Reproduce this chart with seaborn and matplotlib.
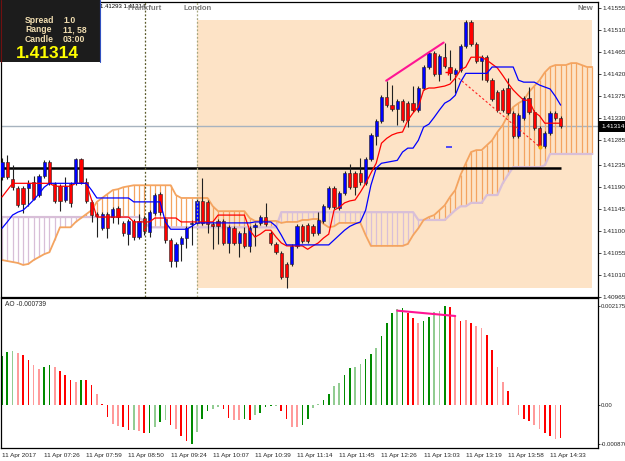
import matplotlib
matplotlib.use("Agg")
import numpy as np
import pandas as pd
import seaborn as sns
import matplotlib.pyplot as plt
from matplotlib.patches import Rectangle
from matplotlib.lines import Line2D

# ---- candles (EURUSD-like M1, 107 bars) ----
opens = [1.41210, 1.41240, 1.41206, 1.41187, 1.41187, 1.41187, 1.41200, 1.41173, 1.41212, 1.41240,
         1.41195, 1.41191, 1.41163, 1.41195, 1.41197, 1.41246, 1.41200, 1.41159, 1.41134, 1.41105,
         1.41134, 1.41128, 1.41146, 1.41116, 1.41093, 1.41120, 1.41087, 1.41126, 1.41097, 1.41136,
         1.41175, 1.41124, 1.41081, 1.41038, 1.41073, 1.41085, 1.41114, 1.41116, 1.41161, 1.41159,
         1.41114, 1.41120, 1.41120, 1.41075, 1.41105, 1.41075, 1.41095, 1.41069, 1.41107, 1.41116,
         1.41128, 1.41095, 1.41073, 1.41054, 1.41032, 1.41032, 1.41069, 1.41109, 1.41111, 1.41109,
         1.41095, 1.41120, 1.41148, 1.41187, 1.41146, 1.41177, 1.41218, 1.41218, 1.41218, 1.41197,
         1.41246, 1.41294, 1.41324, 1.41373, 1.41357, 1.41349, 1.41365, 1.41361, 1.41361, 1.41347,
         1.41392, 1.41435, 1.41463, 1.41420, 1.41455, 1.41435, 1.41420, 1.41429, 1.41478, 1.41527,
         1.41482, 1.41447, 1.41455, 1.41408, 1.41384, 1.41388, 1.41392, 1.41341, 1.41294, 1.41330,
         1.41371, 1.41343, 1.41310, 1.41273, 1.41300, 1.41341, 1.41330]
highs = [1.41249, 1.41255, 1.41234, 1.41191, 1.41191, 1.41204, 1.41212, 1.41216, 1.41244, 1.41244,
         1.41200, 1.41195, 1.41210, 1.41200, 1.41249, 1.41249, 1.41208, 1.41163, 1.41138, 1.41138,
         1.41138, 1.41148, 1.41150, 1.41120, 1.41124, 1.41124, 1.41134, 1.41130, 1.41142, 1.41177,
         1.41179, 1.41128, 1.41085, 1.41077, 1.41089, 1.41109, 1.41122, 1.41165, 1.41208, 1.41163,
         1.41118, 1.41124, 1.41124, 1.41111, 1.41109, 1.41099, 1.41107, 1.41109, 1.41116, 1.41132,
         1.41157, 1.41099, 1.41077, 1.41058, 1.41036, 1.41073, 1.41114, 1.41114, 1.41116, 1.41114,
         1.41138, 1.41155, 1.41191, 1.41191, 1.41181, 1.41222, 1.41236, 1.41222, 1.41249, 1.41251,
         1.41300, 1.41328, 1.41377, 1.41406, 1.41398, 1.41369, 1.41369, 1.41365, 1.41396, 1.41396,
         1.41439, 1.41467, 1.41467, 1.41461, 1.41484, 1.41469, 1.41433, 1.41482, 1.41531, 1.41531,
         1.41486, 1.41459, 1.41459, 1.41412, 1.41388, 1.41392, 1.41412, 1.41345, 1.41341, 1.41375,
         1.41394, 1.41347, 1.41314, 1.41304, 1.41345, 1.41345, 1.41335]
lows = [1.41204, 1.41206, 1.41183, 1.41148, 1.41136, 1.41150, 1.41163, 1.41169, 1.41208, 1.41193,
        1.41157, 1.41140, 1.41159, 1.41148, 1.41193, 1.41195, 1.41157, 1.41118, 1.41087, 1.41101,
        1.41085, 1.41116, 1.41114, 1.41089, 1.41071, 1.41081, 1.41083, 1.41091, 1.41087, 1.41132,
        1.41132, 1.41075, 1.41026, 1.41026, 1.41038, 1.41064, 1.41071, 1.41111, 1.41111, 1.41095,
        1.41062, 1.41073, 1.41071, 1.41054, 1.41071, 1.41046, 1.41064, 1.41056, 1.41069, 1.41111,
        1.41109, 1.41071, 1.41052, 1.41001, 1.40983, 1.41028, 1.41064, 1.41075, 1.41075, 1.41089,
        1.41091, 1.41116, 1.41144, 1.41144, 1.41142, 1.41173, 1.41185, 1.41173, 1.41193, 1.41193,
        1.41242, 1.41275, 1.41320, 1.41353, 1.41345, 1.41316, 1.41322, 1.41312, 1.41343, 1.41343,
        1.41388, 1.41431, 1.41416, 1.41406, 1.41433, 1.41408, 1.41382, 1.41424, 1.41474, 1.41478,
        1.41443, 1.41408, 1.41404, 1.41365, 1.41343, 1.41343, 1.41337, 1.41289, 1.41289, 1.41326,
        1.41339, 1.41306, 1.41269, 1.41269, 1.41296, 1.41326, 1.41310]
closes = [1.41240, 1.41210, 1.41189, 1.41152, 1.41155, 1.41197, 1.41165, 1.41212, 1.41240, 1.41197,
          1.41161, 1.41161, 1.41191, 1.41157, 1.41246, 1.41200, 1.41161, 1.41132, 1.41130, 1.41134,
          1.41105, 1.41144, 1.41128, 1.41095, 1.41120, 1.41087, 1.41120, 1.41099, 1.41138, 1.41173,
          1.41138, 1.41081, 1.41038, 1.41073, 1.41085, 1.41105, 1.41116, 1.41161, 1.41116, 1.41114,
          1.41109, 1.41109, 1.41075, 1.41107, 1.41075, 1.41095, 1.41069, 1.41105, 1.41111, 1.41128,
          1.41114, 1.41075, 1.41056, 1.41005, 1.41005, 1.41069, 1.41109, 1.41079, 1.41079, 1.41095,
          1.41122, 1.41150, 1.41187, 1.41148, 1.41177, 1.41218, 1.41189, 1.41189, 1.41200, 1.41246,
          1.41296, 1.41324, 1.41373, 1.41357, 1.41349, 1.41365, 1.41326, 1.41326, 1.41347, 1.41392,
          1.41435, 1.41463, 1.41420, 1.41457, 1.41437, 1.41422, 1.41429, 1.41478, 1.41527, 1.41482,
          1.41447, 1.41455, 1.41408, 1.41369, 1.41347, 1.41347, 1.41341, 1.41294, 1.41337, 1.41371,
          1.41343, 1.41310, 1.41273, 1.41300, 1.41341, 1.41330, 1.41314]

# ---- Ichimoku ----
tenkan = [1.41169, 1.41183, 1.41197, 1.41197, 1.41197, 1.41197, 1.41197, 1.41197, 1.41197, 1.41197,
          1.41191, 1.41191, 1.41191, 1.41191, 1.41197, 1.41197, 1.41197, 1.41163, 1.41128, 1.41128,
          1.41128, 1.41128, 1.41128, 1.41128, 1.41128, 1.41118, 1.41118, 1.41118, 1.41118, 1.41126,
          1.41126, 1.41126, 1.41126, 1.41126, 1.41118, 1.41118, 1.41118, 1.41118, 1.41118, 1.41118,
          1.41118, 1.41132, 1.41132, 1.41132, 1.41132, 1.41132, 1.41132, 1.41101, 1.41087, 1.41093,
          1.41101, 1.41101, 1.41087, 1.41075, 1.41069, 1.41069, 1.41069, 1.41069, 1.41062, 1.41069,
          1.41075, 1.41085, 1.41093, 1.41142, 1.41148, 1.41157, 1.41161, 1.41163, 1.41179, 1.41197,
          1.41218, 1.41238, 1.41279, 1.41289, 1.41296, 1.41300, 1.41302, 1.41326, 1.41341, 1.41353,
          1.41388, 1.41392, 1.41392, 1.41394, 1.41396, 1.41400, 1.41412, 1.41429, 1.41435, 1.41455,
          1.41455, 1.41455, 1.41449, 1.41441, 1.41433, 1.41418, 1.41402, 1.41388, 1.41377, 1.41367,
          1.41367, 1.41343, 1.41335, 1.41320, 1.41320, 1.41320, 1.41320]
kijun = [1.41105, 1.41118, 1.41132, 1.41138, 1.41142, 1.41152, 1.41163, 1.41175, 1.41189, 1.41197,
         1.41197, 1.41197, 1.41197, 1.41197, 1.41197, 1.41197, 1.41197, 1.41183, 1.41167, 1.41167,
         1.41167, 1.41167, 1.41167, 1.41167, 1.41167, 1.41159, 1.41159, 1.41159, 1.41159, 1.41159,
         1.41159, 1.41118, 1.41103, 1.41103, 1.41103, 1.41103, 1.41109, 1.41116, 1.41116, 1.41116,
         1.41116, 1.41116, 1.41116, 1.41116, 1.41116, 1.41116, 1.41116, 1.41116, 1.41118, 1.41118,
         1.41118, 1.41118, 1.41109, 1.41091, 1.41071, 1.41071, 1.41071, 1.41071, 1.41071, 1.41071,
         1.41071, 1.41071, 1.41071, 1.41081, 1.41091, 1.41101, 1.41109, 1.41114, 1.41118, 1.41142,
         1.41193, 1.41228, 1.41238, 1.41240, 1.41242, 1.41244, 1.41261, 1.41269, 1.41269, 1.41285,
         1.41312, 1.41318, 1.41332, 1.41347, 1.41361, 1.41367, 1.41377, 1.41404, 1.41422, 1.41422,
         1.41422, 1.41422, 1.41422, 1.41435, 1.41435, 1.41435, 1.41435, 1.41435, 1.41408, 1.41404,
         1.41404, 1.41404, 1.41398, 1.41394, 1.41390, 1.41375, 1.41357]
senkou_a = [1.41040, 1.41038, 1.41036, 1.41034, 1.41030, 1.41032, 1.41040, 1.41046, 1.41052, 1.41056,
            1.41081, 1.41107, 1.41107, 1.41107, 1.41118, 1.41126, 1.41134, 1.41142, 1.41159, 1.41167,
            1.41175, 1.41183, 1.41185, 1.41189, 1.41191, 1.41193, 1.41193, 1.41193, 1.41193, 1.41193,
            1.41193, 1.41193, 1.41193, 1.41173, 1.41167, 1.41167, 1.41167, 1.41167, 1.41167, 1.41167,
            1.41150, 1.41140, 1.41140, 1.41140, 1.41140, 1.41140, 1.41140, 1.41126, 1.41120, 1.41120,
            1.41120, 1.41120, 1.41120, 1.41116, 1.41118, 1.41118, 1.41118, 1.41122, 1.41122, 1.41124,
            1.41124, 1.41114, 1.41107, 1.41109, 1.41116, 1.41116, 1.41116, 1.41116, 1.41116, 1.41091,
            1.41069, 1.41069, 1.41069, 1.41069, 1.41069, 1.41069, 1.41069, 1.41073, 1.41091, 1.41105,
            1.41122, 1.41128, 1.41132, 1.41142, 1.41152, 1.41169, 1.41183, 1.41214, 1.41238, 1.41261,
            1.41265, 1.41265, 1.41275, 1.41285, 1.41302, 1.41316, 1.41337, 1.41353, 1.41361, 1.41367,
            1.41384, 1.41396, 1.41408, 1.41424, 1.41435, 1.41439, 1.41439, 1.41439, 1.41443, 1.41443,
            1.41439, 1.41435, 1.41435]
senkou_b = [1.41128, 1.41128, 1.41128, 1.41128, 1.41128, 1.41128, 1.41128, 1.41128, 1.41128, 1.41128,
            1.41128, 1.41128, 1.41128, 1.41128, 1.41128, 1.41128, 1.41128, 1.41128, 1.41128, 1.41128,
            1.41128, 1.41128, 1.41128, 1.41128, 1.41128, 1.41128, 1.41128, 1.41118, 1.41107, 1.41107,
            1.41107, 1.41107, 1.41107, 1.41107, 1.41107, 1.41107, 1.41107, 1.41107, 1.41107, 1.41107,
            1.41107, 1.41107, 1.41107, 1.41107, 1.41107, 1.41107, 1.41107, 1.41107, 1.41107, 1.41107,
            1.41107, 1.41107, 1.41107, 1.41138, 1.41138, 1.41138, 1.41138, 1.41138, 1.41138, 1.41138,
            1.41138, 1.41138, 1.41138, 1.41138, 1.41138, 1.41138, 1.41138, 1.41138, 1.41138, 1.41138,
            1.41138, 1.41138, 1.41138, 1.41138, 1.41138, 1.41138, 1.41138, 1.41138, 1.41138, 1.41122,
            1.41122, 1.41122, 1.41122, 1.41122, 1.41122, 1.41132, 1.41142, 1.41150, 1.41150, 1.41157,
            1.41157, 1.41157, 1.41173, 1.41173, 1.41173, 1.41197, 1.41214, 1.41230, 1.41230, 1.41230,
            1.41230, 1.41230, 1.41230, 1.41234, 1.41257, 1.41257, 1.41257, 1.41257, 1.41257, 1.41257,
            1.41257, 1.41257, 1.41257]

# ---- Awesome Oscillator ----
ao = [0.001073, 0.001153, 0.001176, 0.001139, 0.001095, 0.000984, 0.000867, 0.000786, 0.000823, 0.000874,
      0.000830, 0.000735, 0.000661, 0.000551, 0.000500, 0.000544, 0.000544, 0.000433, 0.000235, 0.000015,
      -0.000264, -0.000426, -0.000470, -0.000485, -0.000551, -0.000558, -0.000588, -0.000632, -0.000617, -0.000485,
      -0.000382, -0.000338, -0.000441, -0.000529, -0.000691, -0.000800, -0.000876, -0.000602, -0.000309, -0.000132,
      -0.000103, -0.000059, -0.000103, -0.000294, -0.000338, -0.000338, -0.000323, -0.000338, -0.000235, -0.000191,
      -0.000059, -0.000029, -0.000029, -0.000132, -0.000309, -0.000485, -0.000485, -0.000441, -0.000323, -0.000073,
      0.000022, 0.000103, 0.000235, 0.000411, 0.000485, 0.000661, 0.000808, 0.000830, 0.000896, 0.000999,
      0.001117, 0.001242, 0.001513, 0.001800, 0.002020, 0.002101, 0.002123, 0.002028, 0.001910, 0.001793,
      0.001844, 0.001925, 0.002042, 0.002057, 0.002175, 0.002145, 0.001954, 0.001851, 0.001866, 0.001793,
      0.001734, 0.001682, 0.001543, 0.001205, 0.000830, 0.000492, 0.000301, -0.000008, -0.000220, -0.000323,
      -0.000353, -0.000456, -0.000529, -0.000617, -0.000691, -0.000749, -0.000739]
ao_shade = ['g', 'g', 'lg', 'lr', 'r', 'r', 'lr', 'lr', 'g', 'g',
            'lr', 'r', 'r', 'r', 'lr', 'g', 'r', 'r', 'lr', 'r',
            'r', 'lr', 'lr', 'r', 'r', 'lg', 'lr', 'r', 'g', 'lg',
            'g', 'lg', 'r', 'lr', 'r', 'r', 'g', 'lg', 'g', 'g',
            'lg', 'lg', 'r', 'r', 'lr', 'lr', 'g', 'r', 'lg', 'g',
            'g', 'g', 'lg', 'r', 'r', 'lr', 'lr', 'g', 'g', 'lg',
            'lg', 'g', 'g', 'lg', 'lg', 'g', 'g', 'lg', 'lg', 'g',
            'g', 'lg', 'g', 'g', 'g', 'lg', 'g', 'r', 'r', 'lr',
            'g', 'g', 'lg', 'lg', 'g', 'r', 'lr', 'r', 'lr', 'r',
            'lr', 'lr', 'r', 'r', 'lr', 'lr', 'r', 'r', 'lr', 'r',
            'r', 'lr', 'lr', 'r', 'r', 'lr', 'r']

time_labels = ['11 Apr 2017', '11 Apr 07:26', '11 Apr 07:59', '11 Apr 08:50', '11 Apr 09:24',
               '11 Apr 10:07', '11 Apr 10:39', '11 Apr 11:14', '11 Apr 11:45', '11 Apr 12:26',
               '11 Apr 13:03', '11 Apr 13:19', '11 Apr 13:58', '11 Apr 14:33']
price_ticks = [1.41555, 1.41510, 1.41465, 1.41420, 1.41375, 1.41330, 1.41285,
               1.41235, 1.41190, 1.41145, 1.41100, 1.41055, 1.41010, 1.40965]
ao_ticks = [0.002175, 0.0, -0.000876]
ao_tick_labels = ['0.002175', '0.00', '-0.000876']

last_price = 1.41314
support_price = 1.41228
frankfurt_bar, london_bar = 27.1, 37.0
session_end_bar = 112
pink_main = ([72.9, 83.8], [1.41407, 1.41485])
red_dash = ([86.0, 102.1], [1.41418, 1.41271])
pink_ao = ([75, 86], [0.002072, 0.001955])

sns.set_style("white")
plt.rcParams['font.family'] = ['Liberation Sans', 'DejaVu Sans']

W, H = 625, 461
fig = plt.figure(figsize=(6.25, 4.61), dpi=100)
ax = fig.add_axes([1 / W, 1 - 296.7 / H, 597 / W, 294.7 / H])
ax2 = fig.add_axes([1 / W, 1 - 447.7 / H, 597 / W, 150 / H])

n = len(closes)
bars = np.arange(n)
cloud_x = np.arange(len(senkou_a))

# London session box (range of the session's candles)
s_hi = max(highs[int(london_bar):])
s_lo = min(lows[int(london_bar):])
ax.add_patch(Rectangle((london_bar, s_lo), session_end_bar - london_bar, s_hi - s_lo,
                       facecolor='#FDE3C6', edgecolor='none', zorder=0))

ax.axhline(last_price, color='#A7B3BF', lw=1.0, zorder=1)

# kumo hatching
sa = np.array(senkou_a)
sb = np.array(senkou_b)
up = sa >= sb
ax.vlines(cloud_x[up], sb[up], sa[up], color='#F4A460', lw=0.9, zorder=1)
ax.vlines(cloud_x[~up], sa[~up], sb[~up], color='#D8BFD8', lw=0.9, zorder=1)
ax.plot(cloud_x, sb, color='#D8BFD8', lw=1.6, zorder=2)
ax.plot(cloud_x, sa, color='#F4A460', lw=1.3, zorder=2)

ax.hlines(support_price, -1, n - 1, color='black', lw=1.8, zorder=3)

# candles
o = np.array(opens)
c = np.array(closes)
ax.vlines(bars, lows, highs, color='#202020', lw=0.8, zorder=4)
body_col = np.where(c >= o, '#0000FF', '#FF0000')
body_h = np.maximum(np.abs(c - o), 0.00002)
ax.bar(bars, body_h, bottom=np.minimum(o, c), width=0.62, color=body_col,
       edgecolor='#202020', linewidth=0.4, zorder=5)

sns.lineplot(x=bars, y=tenkan, ax=ax, color='#FF0000', lw=0.9, zorder=6)
sns.lineplot(x=bars, y=kijun, ax=ax, color='#0000FF', lw=0.9, zorder=6)

ax.plot(*pink_main, color='#FF1493', lw=1.5, zorder=7)
ax.plot(*red_dash, color='#FF2020', lw=0.8, ls=(0, (2, 2)), zorder=7)
ax.plot([84.6], [1.41424], marker='+', color='red', ms=4, mew=1, zorder=7)
ax.plot([102.1], [1.41271], marker='o', color='#FFB000', ms=2, zorder=7)
ax.hlines(1.41271, 84.3, 85.4, color='#3030FF', lw=1.2, zorder=7)

ax.axvline(frankfurt_bar, color='#5A5A2A', lw=0.9, ls=(0, (1.5, 1.5)), zorder=8)
ax.axvline(london_bar, color='#A6A67E', lw=0.9, ls=(0, (1.5, 1.5)), zorder=8)

ax.set_xlim(-0.19, 113.09)
ax.set_ylim(1.40965, 1.41568)
ax.set_xticks([])
ax.yaxis.tick_right()
ax.set_yticks(price_ticks)
ax.set_yticklabels([f'{p:.5f}' for p in price_ticks])
ax.tick_params(axis='y', length=2, width=0.6, labelsize=4.6, pad=1.0)
ax.set(xlabel='', ylabel='')
for s in ax.spines.values():
    s.set_color('black')
    s.set_linewidth(0.9)

# AO panel
df = pd.DataFrame({'bar': bars, 'ao': ao, 'shade': ao_shade})
pal = {'g': '#008A00', 'lg': '#92CC92', 'r': '#FF0000', 'lr': '#FF9A9A'}
sns.barplot(data=df, x='bar', y='ao', hue='shade', palette=pal, dodge=False,
            native_scale=True, width=0.32, errorbar=None, legend=False,
            saturation=1, linewidth=0, ax=ax2)
ax2.plot(*pink_ao, color='#FF1493', lw=1.5)
ax2.set_xlim(-0.19, 113.09)
ax2.set_ylim(-0.000948, 0.002358)
ax2.yaxis.tick_right()
ax2.set_yticks(ao_ticks)
ax2.set_yticklabels(ao_tick_labels)
ax2.set_xticks(np.arange(0, n, 8)[:len(time_labels)])
ax2.set_xticklabels(time_labels)
for lbl in ax2.get_xticklabels():
    lbl.set_ha('left')
ax2.tick_params(axis='x', length=2.5, width=0.6, labelsize=4.6, pad=1.5)
ax2.tick_params(axis='y', length=1.5, width=0.6, labelsize=4.3, pad=0.6)
ax2.set(xlabel='', ylabel='')
ax2.text(0.006, 0.975, 'AO -0.000739', transform=ax2.transAxes, fontsize=4.8, va='top')
for s in ax2.spines.values():
    s.set_color('black')
    s.set_linewidth(0.9)

# info box and labels (figure pixels)
def fr(x, y):
    return x / W, 1 - y / H

fig.add_artist(Rectangle(fr(0, 62), 100 / W, 62 / H, transform=fig.transFigure,
                         facecolor='#1C1C1C', edgecolor='none', zorder=20))
fig.add_artist(Line2D([100 / W, 100 / W], [1 - 62 / H, 1], transform=fig.transFigure,
                      color='#3050C0', lw=0.8, zorder=21))
fig.add_artist(Line2D([0.5 / W, 0.5 / W], [1 - 62 / H, 1], transform=fig.transFigure,
                      color='#701010', lw=0.8, zorder=21))
info = [('Spread', '1.0', 20.5), ('Range', '11, 58', 30), ('Candle', '03:00', 39)]
for k, v, yy in info:
    fig.text(*fr(25, yy), k, color='#F0DDB0', fontsize=6.2, fontweight='bold', va='center', zorder=22)
    fig.text(*fr(63, yy), v, color='#F0DDB0', fontsize=6.2, fontweight='bold', va='center', zorder=22)
fig.text(*fr(16, 53), '1.41314', color='#FFFF00', fontsize=12.5, fontweight='bold', va='center', zorder=22)

fig.text(*fr(100, 7), '1.41293 1.41314', color='black', fontsize=4.3, va='center')
fig.text(*fr(128, 8), 'Frankfurt', color='#7A7A7A', fontsize=5.6, fontweight='bold', va='center')
fig.text(*fr(184, 8), 'London', color='#7A7A7A', fontsize=5.6, fontweight='bold', va='center')
fig.text(*fr(578, 8), 'New', color='#7A7A7A', fontsize=5.6, fontweight='bold', va='center')

fig.add_artist(Rectangle(fr(598.5, 132), 27 / W, 11 / H, transform=fig.transFigure,
                         facecolor='black', edgecolor='none', zorder=20))
fig.text(*fr(601, 126.5), '1.41314', color='white', fontsize=4.6, va='center', zorder=22)

fig.savefig('out.png', dpi=100)
